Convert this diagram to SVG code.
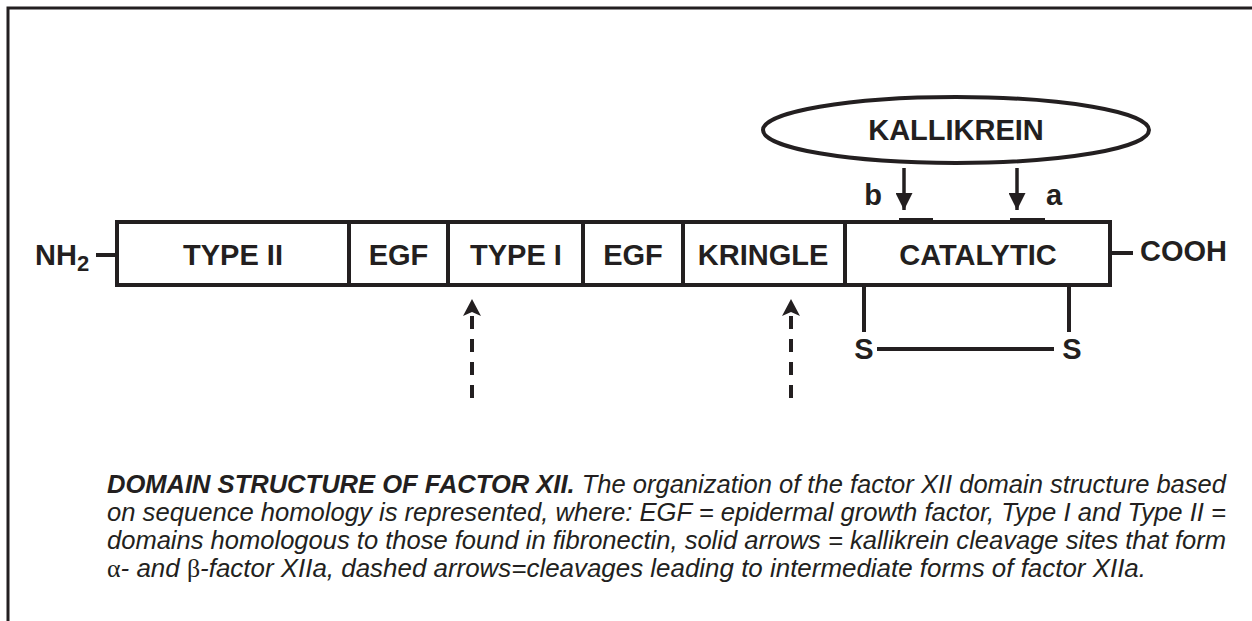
<svg xmlns="http://www.w3.org/2000/svg" width="1252" height="621" viewBox="0 0 1252 621">
<style>
.ln{stroke:#231f20;fill:none}
.lbl{font-family:"Liberation Sans",Arial,sans-serif;font-weight:bold;font-size:29px;fill:#231f20}
.cap{font-family:"Liberation Sans",Arial,sans-serif;font-style:italic;font-size:26px;fill:#231f20}
.gr{font-family:"Liberation Serif","Times New Roman",serif;font-style:normal}
</style>
<defs>
<marker id="ah" viewBox="0 0 10 10" refX="10" refY="5" markerWidth="17" markerHeight="17" markerUnits="userSpaceOnUse" orient="auto">
<path d="M0,0 L10,5 L0,10 Z" fill="#231f20"/>
</marker>
</defs>
<rect width="1252" height="621" fill="#fff"/>
<g id="frame">
<path class="ln" stroke-width="3" d="M8,621 V8 H1252"/>
</g>
<g id="bar">
<rect class="ln" stroke-width="4" x="117" y="222" width="993" height="63"/>
<path class="ln" stroke-width="4" d="M349,222V285M448,222V285M583,222V285M683,222V285M845,222V285"/>
<path class="ln" stroke-width="6" d="M899,221H933M1010,221H1045"/>
</g>
<g id="d-type2"><text class="lbl" x="233" y="265" text-anchor="middle">TYPE II</text></g>
<g id="d-egf1"><text class="lbl" x="398.5" y="265" text-anchor="middle">EGF</text></g>
<g id="d-type1"><text class="lbl" x="516" y="265" text-anchor="middle">TYPE I</text></g>
<g id="d-egf2"><text class="lbl" x="633" y="265" text-anchor="middle">EGF</text></g>
<g id="d-kringle"><text class="lbl" x="763" y="265" text-anchor="middle">KRINGLE</text></g>
<g id="d-catalytic"><text class="lbl" x="978" y="265" text-anchor="middle">CATALYTIC</text></g>
<g id="nterm">
<text class="lbl" x="35" y="265">NH<tspan font-size="22" dy="6">2</tspan></text>
<path class="ln" stroke-width="4" d="M96,255H115"/>
</g>
<g id="cterm">
<path class="ln" stroke-width="4" d="M1112,253H1133"/>
<text class="lbl" x="1140" y="261">COOH</text>
</g>
<g id="kallikrein">
<ellipse class="ln" stroke-width="4" cx="956" cy="130" rx="193" ry="33" fill="#fff"/>
<text class="lbl" x="956" y="140" text-anchor="middle">KALLIKREIN</text>
</g>
<g id="disulfide">
<path class="ln" stroke-width="4" d="M864,287V332M1069,287V332M877,349H1054"/>
<text class="lbl" x="864" y="359" text-anchor="middle">S</text>
<text class="lbl" x="1072" y="359" text-anchor="middle">S</text>
</g>
<g id="site-labels">
<text class="lbl" x="873" y="205" text-anchor="middle">b</text>
<text class="lbl" x="1054" y="205" text-anchor="middle">a</text>
</g>
<g id="connectors">
<path class="ln" stroke-width="3.5" d="M904,168V210" marker-end="url(#ah)"/>
<path class="ln" stroke-width="3.5" d="M1017,168V210" marker-end="url(#ah)"/>
<path class="ln" stroke-width="4" stroke-dasharray="13,10" d="M472,398V315"/>
<path d="M463,316L472,299L481,316L472,312Z" fill="#231f20"/>
<path class="ln" stroke-width="4" stroke-dasharray="13,10" d="M791,398V315"/>
<path d="M782,316L791,299L800,316L791,312Z" fill="#231f20"/>
</g>
<g id="caption">
<text class="cap" x="107" y="493" textLength="1119" lengthAdjust="spacingAndGlyphs"><tspan font-weight="bold">DOMAIN STRUCTURE OF FACTOR XII.</tspan> The organization of the factor XII domain structure based</text>
<text class="cap" x="107" y="521" textLength="1119" lengthAdjust="spacingAndGlyphs">on sequence homology is represented, where: EGF = epidermal growth factor, Type I and Type II =</text>
<text class="cap" x="107" y="549" textLength="1119" lengthAdjust="spacingAndGlyphs">domains homologous to those found in fibronectin, solid arrows = kallikrein cleavage sites that form</text>
<text class="cap" x="107" y="577" textLength="1039" lengthAdjust="spacingAndGlyphs"><tspan class="gr">α</tspan>- and <tspan class="gr">β</tspan>-factor XIIa, dashed arrows=cleavages leading to intermediate forms of factor XIIa.</text>
</g>
</svg>
